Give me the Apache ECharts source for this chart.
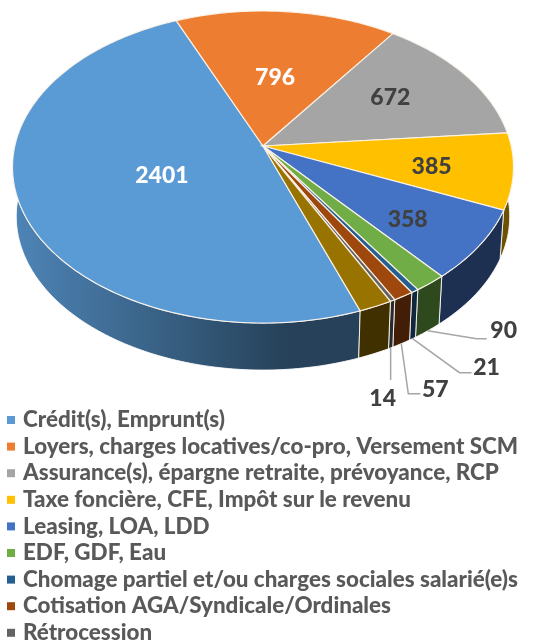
<!DOCTYPE html>
<html><head><meta charset="utf-8">
<style>html,body{margin:0;padding:0;background:#fff;overflow:hidden}#c{width:538px;height:641px}</style>
<script src="https://cdn.jsdelivr.net/npm/echarts@6/dist/echarts.min.js"></script>
</head><body><div id="c"></div>
<script>
const categories = ['Crédit(s), Emprunt(s)','Loyers, charges locatives/co-pro, Versement SCM','Assurance(s), épargne retraite, prévoyance, RCP','Taxe foncière, CFE, Impôt sur le revenu','Leasing, LOA, LDD','EDF, GDF, Eau','Chomage partiel et/ou charges sociales salarié(e)s','Cotisation AGA/Syndicale/Ordinales','Rétrocession','Autre'];
const values = [2401,796,672,385,358,90,21,57,14,93];
const colors = ['#5b9bd5','#ed7d31','#a5a5a5','#ffc000','#4472c4','#70ad47','#255e91','#9e480e','#636363','#997300'];
const legendNames = categories.slice(0,9);
// label placement: radius fraction and angle nudge for inner labels
const innerLabels = {0:[.44,-4,'#ffffff'],1:[.48,0,'#ffffff'],2:[.63,-2,'#404040'],3:[.68,2,'#404040'],4:[.71,3,'#404040']};
// leader elbows relative to the wall anchor: elbow, end, text centre
const outerLabels = {
  5:[[49,8],[59,8],[76,0]],
  6:[[47,34],[59,34],[74,29]],
  7:[[7,50],[19,50],[34,46]],
  8:[[0,32],[0,32],[-8,51]]
};
const startAngle = 160, cx = 263, cy = 146, A = 248.2, B = 153.2, K = 0.1346, DZ = 49.7, S = 0.985;
const total = values.reduce((a,b)=>a+b,0);
const rad = d => d*Math.PI/180;
function project(deg, r, lower){
  const u = r*Math.sin(rad(deg)), v = -r*Math.cos(rad(deg)), w = 1-K*v, s = lower?S:1;
  return [cx + s*A*u/w, cy + (lower?DZ:0) + s*B*v/w];
}
function shade(hex,f){
  const n = parseInt(hex.slice(1),16);
  return `rgb(${Math.round((n>>16)*f)},${Math.round(((n>>8)&255)*f)},${Math.round((n&255)*f)})`;
}
const spans = values.map(v=>v/total*360);
const starts = spans.map((_,i)=>startAngle+spans.slice(0,i).reduce((a,b)=>a+b,0));
const FONT = '900 23px Lato';
function renderSlice(i){
  return function(params, api){
    const a0 = starts[i], a1 = a0+spans[i], mid=(a0+a1)/2, arc=[];
    const n = Math.max(2,Math.ceil(spans[i]));
    for(let k=0;k<=n;k++) arc.push(a0+(a1-a0)*k/n);
    const top = arc.map(d=>project(d,1,false));
    const bot = arc.map(d=>project(d,1,true)).reverse();
    const grad = new echarts.graphic.LinearGradient(13,0,513,0,[
      {offset:0,color:shade(colors[i],.86)},{offset:.55,color:shade(colors[i],.42)},{offset:1,color:shade(colors[i],.42)}],true);
    const kids = [
      {type:'polygon',z2:1,shape:{points:top.concat(bot)},style:{fill:grad,stroke:'rgba(255,255,255,.85)',lineWidth:1}},
      {type:'polygon',z2:10,shape:{points:[[cx,cy]].concat(top)},style:{fill:colors[i],stroke:'rgba(255,246,235,.9)',lineWidth:1.2}}
    ];
    const inner = innerLabels[i];
    if(inner){
      const p = project(mid+inner[1],inner[0],false);
      kids.push({type:'text',z2:20,style:{text:String(values[i]),x:p[0],y:p[1],align:'center',verticalAlign:'middle',font:FONT,fill:inner[2]}});
    }
    const outer = outerLabels[i];
    if(outer){
      const p = project(mid,1,true);
      const pt = o=>[p[0]+o[0],p[1]+o[1]];
      kids.push({type:'polyline',z2:15,shape:{points:[p,pt(outer[0]),pt(outer[1])]},style:{fill:null,stroke:'#a6a6a6',lineWidth:1.5}});
      const t = pt(outer[2]);
      kids.push({type:'text',z2:20,style:{text:String(values[i]),x:t[0],y:t[1],align:'center',verticalAlign:'middle',font:FONT,fill:'#404040'}});
    }
    return {type:'group',children:kids};
  };
}
const chart = echarts.init(document.getElementById('c'),null,{renderer:'canvas'});
chart.setOption({
  animation:false,
  backgroundColor:'#fff',
  legend:{show:true,type:'plain',orient:'vertical',left:7,top:408,height:400,width:530,data:legendNames,icon:'rect',itemWidth:8,itemHeight:8,itemGap:2.6,
    selectedMode:false,padding:0,
    textStyle:{fontFamily:'Lato',fontWeight:900,fontSize:22.4,color:'#595959',lineHeight:24,padding:[0,0,0,3]}},
  series:categories.map((name,i)=>({
    type:'custom',name,coordinateSystem:'none',data:[[values[i]]],
    itemStyle:{color:colors[i]},renderItem:renderSlice(i),silent:true,clip:false
  }))
});
</script></body></html>
